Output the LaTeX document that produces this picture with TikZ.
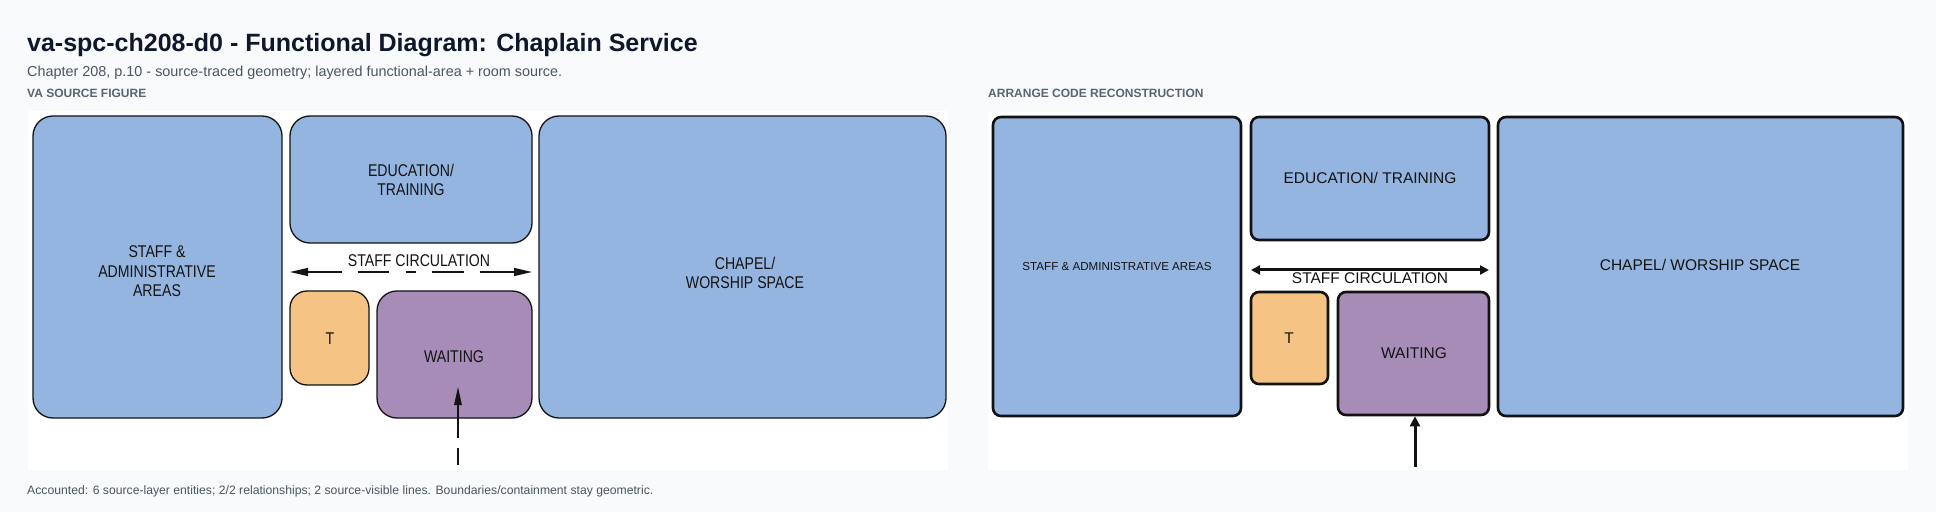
\documentclass[tikz,border=0pt]{standalone}
\usepackage{fontspec}
\setmainfont{Liberation Sans}
\newfontfamily\narrowsans[FakeStretch=0.83]{Liberation Sans}
\usetikzlibrary{arrows.meta}
\definecolor{bgc}{HTML}{F8FAFC}
\definecolor{titlec}{HTML}{0F172A}
\definecolor{subc}{HTML}{4B5563}
\definecolor{labc}{HTML}{5B6472}
\definecolor{areablue}{HTML}{94B5E0}
\definecolor{toiletc}{HTML}{F5C383}
\definecolor{waitc}{HTML}{A78CB8}
\definecolor{inkdark}{HTML}{141414}
\tikzset{
  srcbox/.style={draw=inkdark, line width=1.3bp, rounded corners=20bp, inner sep=0pt},
  recbox/.style={draw=black!93, line width=2.6bp, rounded corners=8bp, inner sep=0pt},
  srctext/.style={font=\narrowsans\fontsize{17bp}{19.5bp}\selectfont, text=inkdark, align=center, inner sep=0pt},
  rectext/.style={font=\fontsize{15.5bp}{18bp}\selectfont, text=inkdark, align=center, inner sep=0pt},
  smalltext/.style={font=\fontsize{11.6bp}{14bp}\selectfont, text=inkdark, align=center, inner sep=0pt},
  srcline/.style={draw=inkdark, line width=1.4bp},
  recline/.style={draw=black!93, line width=3bp},
  section/.style={anchor=base west, inner sep=0pt, text=labc, font=\bfseries\fontsize{12bp}{14bp}\selectfont},
}
\begin{document}
\begin{tikzpicture}[x=1bp,y=-1bp]
% background and panels
\fill[bgc] (0,0) rectangle (1936,512);
\useasboundingbox (0,0) rectangle (1936,512);
\fill[white] (28,111) rectangle (948,470);
\fill[white] (988,112) rectangle (1908,470);

% header texts
\node[anchor=base west, inner sep=0pt, text=titlec, font=\bfseries\fontsize{25bp}{30bp}\selectfont] (title) at (27,52) {va-spc-ch208-d0 - Functional Diagram: Chaplain Service};
\node[anchor=base west, inner sep=0pt, text=subc, font=\fontsize{14.4bp}{17bp}\selectfont] (subtitle) at (27,77) {Chapter 208, p.10 - source-traced geometry; layered functional-area + room source.};
\node[section] (lblL) at (27,98) {VA SOURCE FIGURE};
\node[section] (lblR) at (988,98) {ARRANGE CODE RECONSTRUCTION};
\node[anchor=base west, inner sep=0pt, text=subc, font=\fontsize{12.2bp}{14bp}\selectfont] (footer) at (27,494) {Accounted: 6 source-layer entities; 2/2 relationships; 2 source-visible lines. Boundaries/containment stay geometric.};

% ---------- left panel: VA source figure ----------
\node[srcbox, fill=areablue, minimum width=249bp, minimum height=302bp] (staffL) at (157.5,267) {};
\node[srctext] (staffLt) at (157,271.5) {STAFF \&\\ADMINISTRATIVE\\AREAS};
\node[srcbox, fill=areablue, minimum width=242bp, minimum height=127bp] (eduL) at (411,179.5) {};
\node[srctext] (eduLt) at (411,180) {EDUCATION/\\TRAINING};
\node[srcbox, fill=areablue, minimum width=407bp, minimum height=302bp] (chapelL) at (742.5,267) {};
\node[srctext] (chapelLt) at (745,273) {CHAPEL/\\WORSHIP SPACE};
\node[srcbox, rounded corners=17bp, fill=toiletc, minimum width=79bp, minimum height=94bp] (toiletL) at (329.5,338) {};
\node[srctext] (toiletLt) at (330,339) {T};
\node[srcbox, fill=waitc, minimum width=155bp, minimum height=127bp] (waitL) at (454.5,354.5) {};
\node[srctext] (waitLt) at (454,357) {WAITING};

\node[srctext] (circLt) at (419,261) {STAFF CIRCULATION};
\coordinate (circLa) at (290,272);
\coordinate (circLb) at (532,272);
\draw[srcline, dash pattern=on 34bp off 16bp on 31bp off 17bp on 10bp off 16bp on 32bp off 16bp on 40bp, {Triangle[length=18bp,width=8bp]}-{Triangle[length=18bp,width=8bp]}] (circLa) -- (circLb);

\coordinate (entL) at (458,465);
\coordinate (entLtip) at (458,387);
\draw[srcline, dash pattern=on 17bp off 10bp on 200bp, -{Triangle[length=18bp,width=7.5bp]}] (entL) -- (entLtip);

% ---------- right panel: arrange code reconstruction ----------
\node[recbox, fill=areablue, minimum width=248bp, minimum height=299bp] (staffR) at (1117,266.5) {};
\node[smalltext] (staffRt) at (1117,267) {STAFF \& ADMINISTRATIVE AREAS};
\node[recbox, fill=areablue, minimum width=238bp, minimum height=123bp] (eduR) at (1370,178.5) {};
\node[rectext] (eduRt) at (1370,178) {EDUCATION/ TRAINING};
\node[recbox, fill=areablue, minimum width=405bp, minimum height=299bp] (chapelR) at (1700.5,266.5) {};
\node[rectext] (chapelRt) at (1700,265) {CHAPEL/ WORSHIP SPACE};
\node[recbox, fill=toiletc, minimum width=77bp, minimum height=92bp] (toiletR) at (1289.5,338) {};
\node[rectext] (toiletRt) at (1289,338) {T};
\node[recbox, fill=waitc, minimum width=151bp, minimum height=123bp] (waitR) at (1413.5,353.5) {};
\node[rectext] (waitRt) at (1414,353) {WAITING};

\coordinate (circRa) at (1251,270);
\coordinate (circRb) at (1489,270);
\draw[recline, {Triangle[length=9bp,width=9bp]}-{Triangle[length=9bp,width=9bp]}] (circRa) -- (circRb);
\node[rectext] (circRt) at (1370,278) {STAFF CIRCULATION};

\coordinate (entR) at (1415,467);
\draw[recline, -{Triangle[length=10bp,width=10bp]}] (entR) -- (entR |- waitR.south);
\end{tikzpicture}
\end{document}
